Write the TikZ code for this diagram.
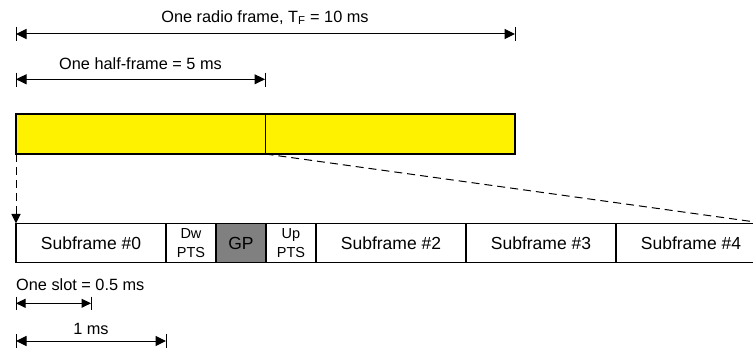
\documentclass[tikz,border=0pt]{standalone}
\usepackage{fontspec}
\setmainfont{Liberation Sans}
\usetikzlibrary{arrows.meta}
\definecolor{gpgray}{RGB}{128,128,128}
\begin{document}
\begin{tikzpicture}[x=1pt,y=-1pt,
  tipA/.tip={Triangle[length=10.5pt,width=10pt]},
  tipB/.tip={Triangle[length=9.5pt,width=9pt]},
  dimline/.style={line width=1pt,tipA-tipA},
  smalldim/.style={line width=1pt,tipB-tipB},
  tickline/.style={line width=1pt},
  cell/.style={draw,line width=1.8pt,minimum height=39pt,inner sep=0pt,outer sep=0pt,anchor=north west,font=\fontsize{17.5}{19}\selectfont},
  smallcell/.style={cell,minimum width=50pt,align=center,font=\fontsize{14.5}{19.5}\selectfont},
  halfbox/.style={draw,line width=1.8pt,fill=yellow,minimum width=249.5pt,minimum height=40pt,inner sep=0pt,outer sep=0pt,anchor=north west},
  lbl/.style={inner sep=0pt,font=\fontsize{16.3}{18}\selectfont}]
\useasboundingbox (0,0) rectangle (753,350);
\clip (0,0) rectangle (753,350);
% labels
\node[lbl,anchor=base] (lf) at (265,22.3) {One radio frame, T\textsubscript{F} = 10 ms};
\node[lbl,anchor=base] (lh) at (140.5,69.3) {One half-frame = 5 ms};
\node[lbl,anchor=base west] (ls) at (16,290.7) {One slot = 0.5 ms};
\node[lbl,anchor=base] (lm) at (91,334.3) {1 ms};
% dimension arrows
\coordinate (f0) at (16,34); \coordinate (f1) at (515,34);
\draw[tickline] (16,26.7) -- (16,40.7);
\draw[tickline] (515,26.7) -- (515,40.7);
\draw[dimline] (f0) -- (f1);
\coordinate (h0) at (16,79.3); \coordinate (h1) at (265,79.3);
\draw[tickline] (16,72.7) -- (16,86.7);
\draw[tickline] (265,72.7) -- (265,86.7);
\draw[dimline] (h0) -- (h1);
\coordinate (s0a) at (16,303.3); \coordinate (s0b) at (91,303.3);
\draw[tickline] (16,296.7) -- (16,310);
\draw[tickline] (91,296.7) -- (91,310);
\draw[smalldim] (s0a) -- (s0b);
\coordinate (m0) at (16,341); \coordinate (m1) at (166,341);
\draw[tickline] (16,334) -- (16,347.5);
\draw[tickline] (166,334) -- (166,347.5);
\draw[dimline] (m0) -- (m1);
% yellow frame
\node[halfbox] (y1) at (16,114) {};
\node[halfbox] (y2) at (265.5,114) {};
% subframes
\node[cell,minimum width=150pt] (sf0) at (16,223.5) {Subframe \#0};
\node[smallcell] (dw) at (166,223.5) {Dw\\PTS};
\node[cell,minimum width=50pt,fill=gpgray] (gp) at (216,223.5) {GP};
\node[smallcell] (up) at (266,223.5) {Up\\PTS};
\node[cell,minimum width=150pt] (sf2) at (316,223.5) {Subframe \#2};
\node[cell,minimum width=150pt] (sf3) at (466,223.5) {Subframe \#3};
\node[cell,minimum width=150pt] (sf4) at (616,223.5) {Subframe \#4};
% zoom lines
\draw[line width=1pt,dash pattern=on 8pt off 5pt,-tipB] (y1.south west) -- (sf0.north west);
\draw[line width=1pt,dash pattern=on 8pt off 5pt] (y1.south east) -- (sf4.north east);
\end{tikzpicture}
\end{document}
